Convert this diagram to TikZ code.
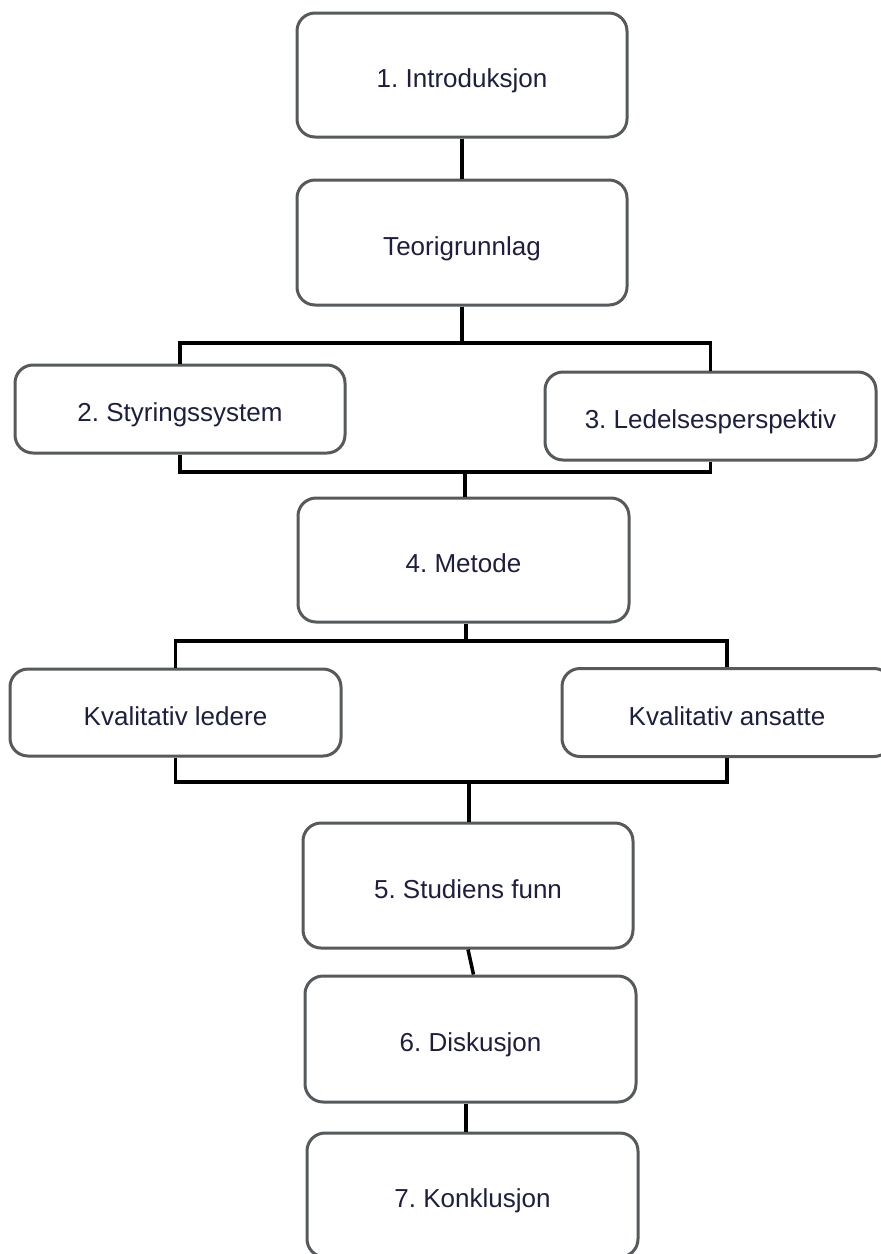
\documentclass[tikz,border=0pt]{standalone}
\usepackage{fontspec}
\setmainfont{Liberation Sans}
\frenchspacing
\definecolor{boxline}{HTML}{565A5C}
\definecolor{txt}{HTML}{1C1F3E}
\begin{document}
\begin{tikzpicture}[x=1pt,y=-1pt,
  box/.style={draw=boxline, line width=3pt, rounded corners=18pt, fill=white,
    rectangle, inner sep=0pt, text=txt, text height=25pt, text depth=0pt,
    font=\fontsize{26}{30}\selectfont},
  conn/.style={draw=black, line width=3.5pt}]
\useasboundingbox (0,0) rectangle (881,1254);
\clip (0,0) rectangle (881,1254);

\coordinate (j1) at (462,343);
\coordinate (j2) at (465,472);
\coordinate (j3) at (466,641);
\coordinate (j4) at (469,782);

\node[box, minimum width=330pt, minimum height=124pt] (intro) at (462,75) {1. Introduksjon};
\node[box, minimum width=330pt, minimum height=125pt] (teori) at (462,242.5) {Teorigrunnlag};
\node[box, minimum width=330pt, minimum height=88pt] (styr) at (180,409) {2. Styringssystem};
\node[box, minimum width=331pt, minimum height=88pt] (led) at (710.5,416) {3. Ledelsesperspektiv};
\node[box, minimum width=331pt, minimum height=124pt] (metode) at (463.5,560) {4. Metode};
\node[box, minimum width=331pt, minimum height=87pt] (kvl) at (175.5,712.5) {Kvalitativ ledere};
\node[box, minimum width=330pt, minimum height=88pt] (kva) at (727,712.5) {Kvalitativ ansatte};
\node[box, minimum width=330pt, minimum height=125pt] (funn) at (468,885.5) {5. Studiens funn};
\node[box, minimum width=331pt, minimum height=126pt] (disk) at (470.5,1039) {6. Diskusjon};
\node[box, minimum width=331pt, minimum height=124pt] (konk) at (472.5,1195) {7. Konklusjon};

\draw[conn] (intro.south) -- (teori.north);
\draw[conn] (teori.south) -- (j1);
\draw[conn] (styr.north) |- (j1) -| (led.north);
\draw[conn] (styr.south) |- (j2) -| (led.south);
\draw[conn] (j2) -- (metode.north -| j2);
\draw[conn] (metode.south -| j3) -- (j3);
\draw[conn] (kvl.north) |- (j3) -| (kva.north);
\draw[conn] (kvl.south) |- (j4) -| (kva.south);
\draw[conn] (j4) -- (funn.north -| j4);
\draw[conn] (funn.south) -- ([xshift=3pt]disk.north);
\draw[conn] ([xshift=-4.5pt]disk.south) -- ([xshift=-6.5pt]konk.north);
\end{tikzpicture}
\end{document}
